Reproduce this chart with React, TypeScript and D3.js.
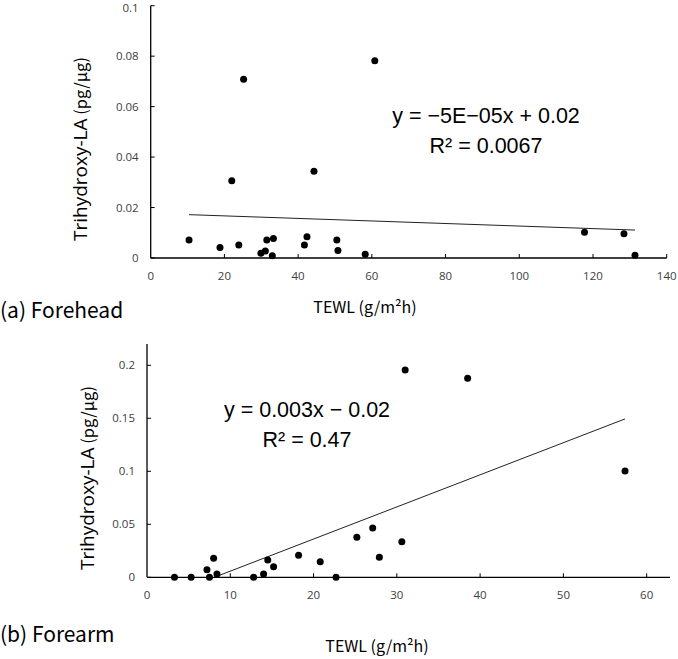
import React from "react";
import * as d3 from "d3";

const foreheadX = [10.4, 18.8, 25.2, 22.0, 23.9, 29.9, 31.1, 31.5, 33.3, 33.0, 41.7, 42.4, 44.3, 50.5, 50.8, 60.8, 58.2, 117.7, 128.4, 131.4];
const foreheadY = [0.0071, 0.0042, 0.0708, 0.0306, 0.0052, 0.0019, 0.0028, 0.0071, 0.0077, 0.0009, 0.0052, 0.0084, 0.0344, 0.0071, 0.003, 0.0782, 0.0015, 0.0102, 0.0096, 0.0011];
const foreheadFit = { slope: -5.04e-5, intercept: 0.0177 };
const foreheadXTicks = [0, 20, 40, 60, 80, 100, 120, 140];
const foreheadYTicks = [0, 0.02, 0.04, 0.06, 0.08, 0.1];

const forearmX = [3.3, 5.3, 7.2, 7.5, 8.0, 8.4, 12.8, 14.0, 14.5, 15.2, 18.2, 20.8, 22.7, 25.2, 27.1, 27.9, 30.6, 31.0, 38.5, 57.4];
const forearmY = [0, 0, 0.0072, 0, 0.0179, 0.0031, 0, 0.0031, 0.0163, 0.01, 0.0208, 0.0147, 0, 0.0377, 0.0465, 0.0189, 0.0336, 0.1956, 0.1877, 0.1003];
const forearmFit = { slope: 0.00303, intercept: -0.0245 };
const forearmXTicks = [0, 10, 20, 30, 40, 50, 60];
const forearmYTicks = [0, 0.05, 0.1, 0.15, 0.2];

const TICK_FONT = "'Open Sans', 'Noto Sans', sans-serif";
const JP_FONT = "'Noto Sans CJK JP', sans-serif";
const EQ_FONT = "'Liberation Sans', Arial, sans-serif";

type PanelProps = {
  xs: number[];
  ys: number[];
  fit: { slope: number; intercept: number };
  xTicks: number[];
  yTicks: number[];
  xDomain: [number, number];
  yDomain: [number, number];
  xRange: [number, number];
  yRange: [number, number];
  eq1: string;
  eq2: string;
  eqX: number;
  eqY: number;
  yLabelX: number;
  yLabelY: number;
  xLabelX: number;
  xLabelY: number;
  panelLabel: string;
  panelLabelY: number;
};

function Panel(p: PanelProps) {
  const x = d3.scaleLinear().domain(p.xDomain).range(p.xRange);
  const y = d3.scaleLinear().domain(p.yDomain).range(p.yRange);
  const xMin = d3.min(p.xs) as number;
  const xMax = d3.max(p.xs) as number;
  let x0 = xMin;
  const f = (v: number) => p.fit.slope * v + p.fit.intercept;
  if (f(x0) < 0) x0 = -p.fit.intercept / p.fit.slope;
  const line = d3.line<number>().x((d) => x(d)).y((d) => y(f(d)));
  const yTop = y(p.yDomain[1]);
  const yBase = y(0);
  const fmt = (v: number) => (v === 0 ? "0" : String(v));
  return (
    <g>
      <path d={line([x0, xMax]) || ""} stroke="#222" strokeWidth={1} fill="none" />
      {p.xs.map((xv, i) => (
        <circle key={i} cx={x(xv)} cy={y(p.ys[i])} r={3.5} fill="#000" />
      ))}
      <line x1={p.xRange[0]} x2={p.xRange[0]} y1={yTop} y2={yBase} stroke="#000" strokeWidth={1.3} />
      <line x1={p.xRange[0]} x2={p.xRange[1]} y1={yBase} y2={yBase} stroke="#000" strokeWidth={1.3} />
      {p.yTicks.map((t) => (
        <g key={"y" + t}>
          <line x1={p.xRange[0]} x2={p.xRange[0] + 4} y1={y(t)} y2={y(t)} stroke="#000" strokeWidth={1} />
          <text x={p.xRange[0] - 12} y={Math.max(y(t), 8)} dy="0.35em" textAnchor="end" fontFamily={TICK_FONT} fontSize={11.5} fill="#404040">
            {fmt(t)}
          </text>
        </g>
      ))}
      {p.xTicks.map((t) => (
        <g key={"x" + t}>
          {t !== 0 && <line x1={x(t)} x2={x(t)} y1={yBase} y2={yBase - 4} stroke="#000" strokeWidth={1} />}
          <text x={x(t)} y={yBase + 22} textAnchor="middle" fontFamily={TICK_FONT} fontSize={11.5} fill="#404040">
            {fmt(t)}
          </text>
        </g>
      ))}
      <text x={p.eqX} y={p.eqY} textAnchor="middle" fontFamily={EQ_FONT} fontSize={21.5} fill="#000">
        {p.eq1}
      </text>
      <text x={p.eqX} y={p.eqY + 30} textAnchor="middle" fontFamily={EQ_FONT} fontSize={21.5} fill="#000">
        {p.eq2}
      </text>
      <g transform={`translate(${p.yLabelX},${p.yLabelY}) rotate(-90)`}>
        <text x={-93} y={0} fontFamily={TICK_FONT} fontSize={19} fill="#000">
          Trihydroxy-LA
          <tspan fontFamily={JP_FONT} fontSize={16.5}> (pg/μg)</tspan>
        </text>
      </g>
      <text x={p.xLabelX} y={p.xLabelY} textAnchor="middle" fontFamily={JP_FONT} fontSize={16} fill="#000">
        TEWL (g/m²h)
      </text>
      <text x={0} y={p.panelLabelY} fontFamily={JP_FONT} fontSize={21} fill="#000">
        {p.panelLabel}
      </text>
    </g>
  );
}

export default function App() {
  return (
    <svg width={678} height={659} style={{ position: "absolute", left: 0, top: 0, background: "#fff" }}>
      <rect width={678} height={659} fill="#fff" />
      <Panel
        xs={foreheadX}
        ys={foreheadY}
        fit={foreheadFit}
        xTicks={foreheadXTicks}
        yTicks={foreheadYTicks}
        xDomain={[0, 140]}
        yDomain={[0, 0.1]}
        xRange={[150.7, 666.7]}
        yRange={[258, 5.7]}
        eq1="y = −5E−05x + 0.02"
        eq2="R² = 0.0067"
        eqX={486}
        eqY={123}
        yLabelX={87}
        yLabelY={148}
        xLabelX={365}
        xLabelY={313}
        panelLabel="(a) Forehead"
        panelLabelY={318}
      />
      <Panel
        xs={forearmX}
        ys={forearmY}
        fit={forearmFit}
        xTicks={forearmXTicks}
        yTicks={forearmYTicks}
        xDomain={[0, 62.8]}
        yDomain={[0, 0.22]}
        xRange={[147, 670]}
        yRange={[577.3, 344.1]}
        eq1="y = 0.003x − 0.02"
        eq2="R² = 0.47"
        eqX={307}
        eqY={416.5}
        yLabelX={94}
        yLabelY={477}
        xLabelX={377}
        xLabelY={652}
        panelLabel="(b) Forearm"
        panelLabelY={642}
      />
    </svg>
  );
}
